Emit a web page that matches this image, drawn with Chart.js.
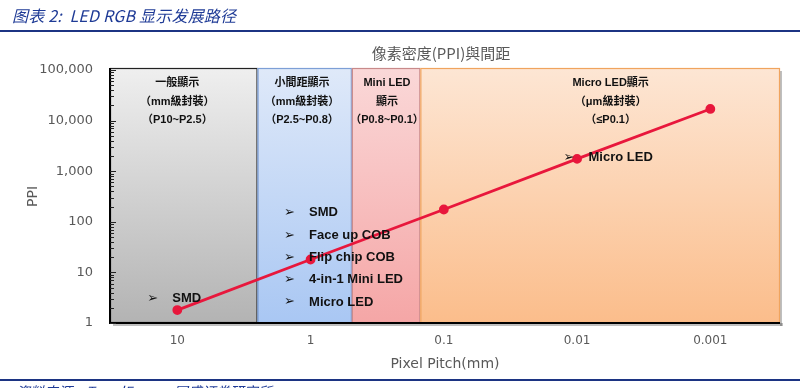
<!DOCTYPE html>
<html>
<head>
<meta charset="utf-8">
<script src="https://cdn.jsdelivr.net/npm/chart.js@4/dist/chart.umd.min.js"></script>
<style>
  body { margin: 0; background: #fff; width: 800px; height: 388px; overflow: hidden; position: relative; }
  #c { position: absolute; left: 0; top: 0; }
  .hdr { position: absolute; left: 12px; top: 3px; font: italic 16px "Noto Sans CJK SC", "DejaVu Sans", sans-serif; color: #1f3b96; white-space: pre; letter-spacing: 0.2px; }
  .rule { position: absolute; left: 0; width: 800px; height: 2px; background: #1c3483; }
  .ftr { position: absolute; left: 16px; top: 381px; font: italic 14px "Noto Sans CJK SC", sans-serif; color: #1f3b96; }
</style>
</head>
<body>
<canvas id="c" width="800" height="388"></canvas>
<div class="hdr">图表 2:  LED RGB 显示发展路径</div>
<div class="rule" style="top:30px"></div>
<div class="rule" style="top:379px"></div>
<div class="ftr">资料来源：TrendForce，国盛证券研究所</div>
<script>
// pixel pitch (mm) vs PPI
var pitch = [10, 1, 0.1, 0.01, 0.001];
var ppi = [1.8, 18, 175, 1750, 17000];

var xTicks = [10, 1, 0.1, 0.01, 0.001];
var yTicks = [1, 10, 100, 1000, 10000, 100000];

var chartTitle = '像素密度(PPI)與間距';

// segment boundaries along the pitch axis
var zoneEdges = [32, 2.5, 0.49, 0.15, 0.00031];
var zoneTop = ['#efefef', '#dfe9f9', '#fad8d8', '#fde6d4'];
var zoneBottom = ['#b3b3b3', '#a9c7f3', '#f5a6a6', '#fbbd8b'];
var zoneBorder = ['#222222', '#7d9fd6', '#c88a8a', '#f0a45e'];

var zoneLabels = [
  ['一般顯示', '（mm級封裝）', '（P10~P2.5）'],
  ['小間距顯示', '（mm級封裝）', '（P2.5~P0.8）'],
  ['Mini LED', '顯示', '（P0.8~P0.1）'],
  ['Micro LED顯示', '（μm級封裝）', '（≤P0.1）']
];
var zoneLabelAt = [10, 1.16, 0.267, 0.0056];

var bulletGroups = [
  { items: ['SMD'], at: [15.4, 3.1] },
  { items: ['SMD', 'Face up COB', 'Flip chip COB', '4-in-1 Mini LED', 'Micro LED'], at: [1.45, 150] },
  { items: ['Micro LED'], at: [0.0116, 1880] }
];

var zonePlugin = {
  id: 'zones',
  beforeDatasetsDraw: function(chart) {
    var ctx = chart.ctx, a = chart.chartArea;
    var xs = chart.scales.x, ys = chart.scales.y;
    var top = a.top - 2;
    ctx.save();
    for (var i = 0; i < zoneTop.length; i++) {
      var x0 = i === 0 ? a.left : xs.getPixelForValue(zoneEdges[i]);
      var x1 = i === zoneTop.length - 1 ? a.right : xs.getPixelForValue(zoneEdges[i + 1]);
      var g = ctx.createLinearGradient(0, top, 0, a.bottom);
      g.addColorStop(0, zoneTop[i]);
      g.addColorStop(1, zoneBottom[i]);
      ctx.fillStyle = g;
      ctx.fillRect(x0, top, x1 - x0, a.bottom - top);
      ctx.strokeStyle = zoneBorder[i];
      ctx.lineWidth = 1.2;
      ctx.strokeRect(x0 + 0.5, top + 0.5, x1 - x0 - 1, a.bottom - top - 1);
    }
    // shadow and axis lines
    ctx.fillStyle = 'rgba(0,0,0,0.25)';
    ctx.fillRect(a.right, top + 3, 2, a.bottom - top);
    ctx.fillRect(a.left + 3, a.bottom, a.right - a.left, 3);
    ctx.strokeStyle = '#000';
    ctx.lineWidth = 2;
    ctx.beginPath();
    ctx.moveTo(a.left, top);
    ctx.lineTo(a.left, a.bottom);
    ctx.lineTo(a.right, a.bottom);
    ctx.stroke();
    // minor ticks inside the left edge
    ctx.lineWidth = 1;
    ctx.strokeStyle = '#222';
    for (var d = 1; d < 100000; d *= 10) {
      for (var m = 1; m <= 10; m++) {
        var y = Math.round(ys.getPixelForValue(d * m)) + 0.5;
        var len = (m === 1 || m === 10) ? 6 : 4;
        ctx.beginPath();
        ctx.moveTo(a.left, y);
        ctx.lineTo(a.left + len, y);
        ctx.stroke();
      }
    }
    // chart title
    ctx.fillStyle = '#595959';
    ctx.textAlign = 'center';
    ctx.textBaseline = 'middle';
    ctx.font = '15px "Noto Sans CJK TC", sans-serif';
    ctx.fillText(chartTitle, (a.left + a.right) / 2 - 4, 53);
    // zone headings
    ctx.fillStyle = '#111';
    ctx.font = 'bold 11px "Liberation Sans", "Noto Sans CJK TC", sans-serif';
    for (var j = 0; j < zoneLabels.length; j++) {
      var cx = xs.getPixelForValue(zoneLabelAt[j]);
      zoneLabels[j].forEach(function(t, k) {
        ctx.fillText(t, cx, top + 15 + k * 18.5);
      });
    }
    ctx.restore();
  },
  afterDatasetsDraw: function(chart) {
    var ctx = chart.ctx;
    var xs = chart.scales.x, ys = chart.scales.y;
    ctx.save();
    ctx.textBaseline = 'middle';
    ctx.textAlign = 'left';
    bulletGroups.forEach(function(grp) {
      var bx = xs.getPixelForValue(grp.at[0]);
      var by = ys.getPixelForValue(grp.at[1]);
      grp.items.forEach(function(t, k) {
        var y = by + k * 22.3;
        ctx.fillStyle = '#111';
        ctx.font = '13px "DejaVu Sans", sans-serif';
        ctx.fillText('➢', bx - 5, y);
        ctx.font = 'bold 13px "Liberation Sans", sans-serif';
        ctx.fillText(t, bx + 20, y);
      });
    });
    ctx.restore();
  }
};

new Chart(document.getElementById('c'), {
  type: 'line',
  data: {
    datasets: [{
      data: pitch.map(function(p, i) { return { x: p, y: ppi[i] }; }),
      borderColor: '#e8173c',
      backgroundColor: '#e8173c',
      borderWidth: 2.8,
      pointRadius: 3.5,
      pointHoverRadius: 3.5,
      tension: 0
    }]
  },
  options: {
    responsive: false,
    devicePixelRatio: 1,
    animation: false,
    layout: { padding: { left: 20, right: 20, top: 70, bottom: 15 } },
    plugins: {
      legend: { display: false },
      tooltip: { enabled: false },
      title: { display: false }
    },
    scales: {
      x: {
        type: 'logarithmic',
        reverse: true,
        min: 0.00031,
        max: 32,
        afterBuildTicks: function(s) { s.ticks = xTicks.map(function(v) { return { value: v }; }); },
        afterFit: function(s) { s.height = 50; },
        grid: { display: false, drawTicks: false },
        border: { display: false },
        ticks: {
          padding: 11,
          color: '#595959',
          font: { family: '"DejaVu Sans", sans-serif', size: 12 },
          maxRotation: 0,
          callback: function(v) { return String(v); }
        },
        title: {
          display: true,
          text: 'Pixel Pitch(mm)',
          color: '#595959',
          font: { family: '"DejaVu Sans", sans-serif', size: 14 },
          padding: { top: 0, bottom: 0 }
        }
      },
      y: {
        type: 'logarithmic',
        min: 1,
        max: 100000,
        afterBuildTicks: function(s) { s.ticks = yTicks.map(function(v) { return { value: v }; }); },
        afterFit: function(s) { s.width = 90; },
        grid: { display: false, drawTicks: false },
        border: { display: false },
        ticks: {
          padding: 17,
          color: '#595959',
          font: { family: '"DejaVu Sans", sans-serif', size: 13 },
          callback: function(v) { return Number(v).toLocaleString('en-US'); }
        },
        title: {
          display: true,
          text: 'PPI',
          color: '#595959',
          font: { family: '"DejaVu Sans", sans-serif', size: 14 },
          padding: { top: 5, bottom: 0 }
        }
      }
    }
  },
  plugins: [zonePlugin]
});
</script>
</body>
</html>
